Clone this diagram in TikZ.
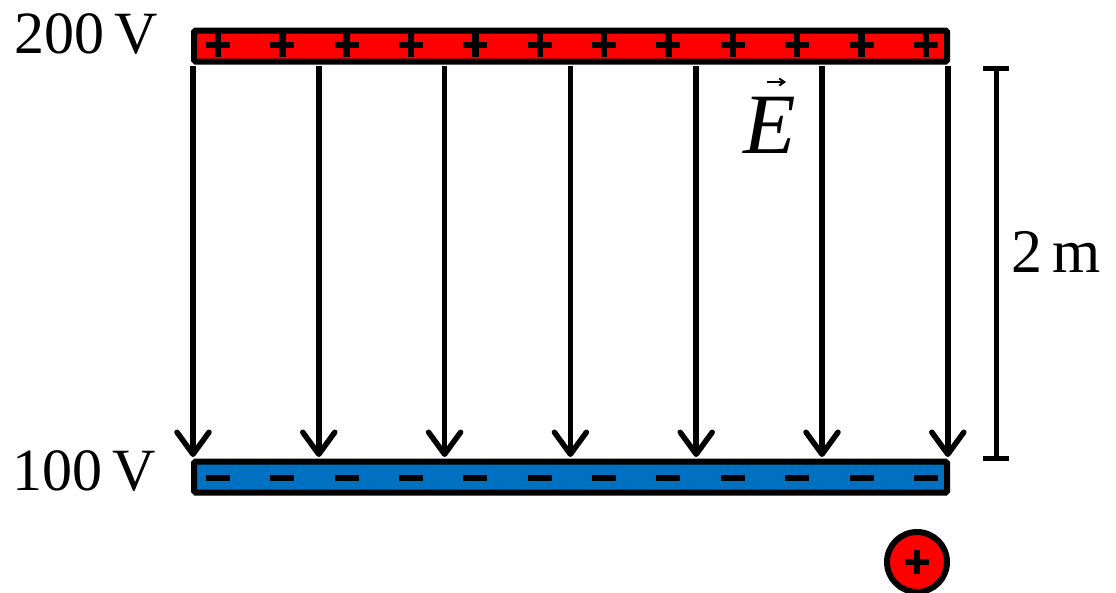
\documentclass[tikz,border=0pt]{standalone}
\usepackage{fontspec}
\setmainfont{Liberation Serif}
\usetikzlibrary{arrows.meta}

\definecolor{platered}{RGB}{255,0,0}
\definecolor{plateblue}{RGB}{0,112,192}

\begin{document}
\begin{tikzpicture}[x=1pt,y=1pt,
    plate/.style={draw,line width=6pt,rounded corners=1.5pt,minimum width=753pt,
        minimum height=31pt,inner sep=0pt,outer sep=0pt},
    sign/.style={line width=6.5pt},
    fieldline/.style={line width=5.5pt,
        -{Straight Barb[length=22pt,width=32pt,line width=5.5pt,round]}},
    label/.style={inner sep=0pt,anchor=base west,font=\fontsize{60}{60}\selectfont}]
    \useasboundingbox (0,0) rectangle (1116,-592);

    % plates
    \node[plate,fill=platered] (top) at (570.5,-46) {};
    \node[plate,fill=plateblue] (bottom) at (570.5,-477) {};
    \foreach \i [evaluate=\i as \x using 218+64.35*\i] in {0,...,11} {
        \draw[sign] (\x-12,-45) -- (\x+12,-45) (\x,-57) -- (\x,-33);
        \draw[sign] (\x-12,-478) -- (\x+12,-478);
    }

    % field lines
    \foreach \i [evaluate=\i as \x using 193+125.8*\i] in {0,...,6}
        \draw[fieldline] (\x,-66) -- (\x,-457);

    % potentials
    \node[label] (vtop) at (14,-53) {200\,V};
    \node[label] (vbottom) at (12,-490) {100\,V};
    \node[label,font=\fontsize{86}{86}\selectfont\itshape] (field) at (743,-153) {E};
    \draw[line width=2pt,-{Straight Barb[length=5pt,width=7pt]}] (767,-82) -- (786,-82);

    % distance
    \coordinate (bartop) at (996,-66);
    \coordinate (barbottom) at (996,-461);
    \draw[line width=5pt,{Bar[width=26pt]}-{Bar[width=26pt]}] (bartop) -- (barbottom);
    \node[label,font=\fontsize{62}{62}\selectfont] (dist) at (1011,-272) {2\,m};

    % test charge
    \node[circle,draw,line width=6pt,fill=platered,minimum size=60pt,inner sep=0pt] (charge) at (917,-562) {};
    \draw[sign] ([xshift=-12pt]charge.center) -- ([xshift=12pt]charge.center)
        ([yshift=-12pt]charge.center) -- ([yshift=12pt]charge.center);
\end{tikzpicture}
\end{document}
